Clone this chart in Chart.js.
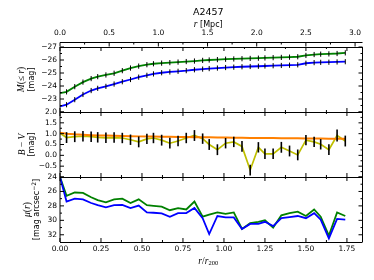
<!DOCTYPE html>
<html><head><meta charset="utf-8">
<script src="https://cdn.jsdelivr.net/npm/chart.js@4/dist/chart.umd.min.js"></script>
<style>html,body{margin:0;padding:0;background:#fff}#wrap{width:374px;height:280px}</style>
</head><body><div id="wrap"><canvas id="c" width="374" height="280"></canvas></div>
<script>
// r / r200 of each radial bin
const radius = [0, 0.04, 0.09, 0.14, 0.19, 0.23, 0.28, 0.33, 0.38, 0.43, 0.48, 0.53, 0.57, 0.62, 0.67, 0.72, 0.77, 0.82, 0.87, 0.91, 0.96, 1.01, 1.06, 1.11, 1.16, 1.21, 1.25, 1.30, 1.35, 1.40, 1.45, 1.50, 1.55, 1.59, 1.64, 1.69, 1.74];
// cumulative magnitude M(<= r)
const magGreen = [-23.45, -23.55, -23.95, -24.3, -24.57, -24.72, -24.85, -24.98, -25.18, -25.38, -25.53, -25.64, -25.71, -25.76, -25.8, -25.84, -25.88, -25.92, -25.97, -26.0, -26.03, -26.06, -26.08, -26.1, -26.12, -26.14, -26.16, -26.18, -26.2, -26.22, -26.25, -26.35, -26.42, -26.45, -26.47, -26.5, -26.55];
const magBlue = [-22.43, -22.56, -22.95, -23.35, -23.65, -23.82, -23.97, -24.15, -24.33, -24.5, -24.68, -24.82, -24.93, -25.02, -25.08, -25.13, -25.18, -25.25, -25.3, -25.34, -25.38, -25.42, -25.45, -25.48, -25.5, -25.52, -25.54, -25.56, -25.58, -25.6, -25.63, -25.75, -25.8, -25.82, -25.83, -25.85, -25.87];
// B - V colour profile, its error and the fitted trend
const bvColor = [1.02, 0.82, 0.86, 0.88, 0.86, 0.83, 0.81, 0.82, 0.80, 0.72, 0.62, 0.76, 0.80, 0.70, 0.56, 0.66, 0.80, 0.915, 0.77, 0.5, 0.26, 0.56, 0.62, 0.41, -0.68, 0.37, 0.07, 0.07, 0.37, 0.2, 0.02, 0.70, 0.62, 0.51, 0.26, 0.915, 0.66];
const bvErr = [null, 0.25, 0.25, 0.24, 0.24, 0.24, 0.24, 0.24, 0.24, 0.24, 0.25, 0.24, 0.24, 0.25, 0.25, 0.24, 0.24, 0.25, 0.24, 0.25, 0.25, 0.24, 0.24, 0.25, 0.25, 0.24, 0.24, 0.24, 0.25, 0.25, 0.25, 0.24, 0.24, 0.24, 0.25, 0.28, 0.25];
const bvFit = [1.04, 1.0, 0.97, 0.95, 0.93, 0.92, 0.91, 0.90, 0.89, 0.88, 0.875, 0.87, 0.865, 0.86, 0.855, 0.85, 0.845, 0.84, 0.835, 0.83, 0.825, 0.82, 0.815, 0.81, 0.805, 0.80, 0.80, 0.795, 0.79, 0.79, 0.785, 0.78, 0.78, 0.775, 0.77, 0.77, 0.765];
// surface brightness mu(r)
const muGreen = [24.0, 26.6, 26.15, 26.2, 26.8, 27.2, 27.5, 27.1, 27.0, 27.6, 27.1, 27.9, 28.0, 28.1, 28.6, 28.3, 28.5, 27.4, 29.5, 29.2, 28.9, 29.1, 28.9, 31.2, 30.4, 30.2, 30.0, 31.0, 29.3, 29.0, 28.8, 29.4, 28.5, 29.5, 32.1, 28.9, 29.4];
const muBlue = [24.0, 27.4, 27.0, 27.1, 27.6, 27.9, 28.2, 27.9, 27.85, 28.3, 27.95, 28.9, 28.95, 29.05, 29.5, 29.0, 29.0, 28.3, 29.7, 31.9, 29.4, 29.6, 29.6, 31.2, 30.5, 30.5, 30.2, 30.8, 29.7, 29.55, 29.4, 29.7, 29.0, 29.9, 32.5, 29.8, 29.9];
// tick labels
const xTicks = [0, 0.25, 0.5, 0.75, 1.0, 1.25, 1.5, 1.75];
const mpcTicks = [0, 0.5, 1.0, 1.5, 2.0, 2.5, 3.0];
const magTicks = [-27, -26, -25, -24, -23, -22];
const bvTicks = [2.0, 1.5, 1.0, 0.5, 0.0, -0.5, -1.0];
const muTicks = [24, 26, 28, 30, 32];
const R200_MPC = 1.667;
const X_MAX = 1.845;

const MINUS = '\u2212';
const fmt = (v, d) => (v < 0 ? MINUS : '') + Math.abs(v).toFixed(d);
const TICK_FONT = {family: 'DejaVu Sans', size: 7.5};
const SERIF_I = 'italic 9.5px "Liberation Serif"';
const SERIF = '9.5px "Liberation Serif"';
const SANS = '8px "DejaVu Sans"';

function pts(ys) { return radius.map((r, i) => ({x: r, y: ys[i]})); }
const markRadius = radius.map((r, i) => i === 0 ? 0 : 2.6);

function yScale(ticks, min, max, reverse, hide, digits) {
  return {
    type: 'linear', position: 'left', stack: 'panels', stackWeight: 1,
    min: min, max: max, reverse: reverse, offset: false,
    afterBuildTicks: s => { s.ticks = ticks.map(v => ({value: v})); },
    afterFit: s => { s.width = 60; },
    grid: {display: false, drawTicks: false}, border: {display: false},
    ticks: {font: TICK_FONT, color: '#000', padding: 3, autoSkip: false,
      callback: v => (v === hide ? '' : fmt(v, digits))}
  };
}

function midpoints(arr) {
  const s = arr.slice().sort((a, b) => a - b), out = [];
  for (let i = 0; i < s.length - 1; i++) out.push((s[i] + s[i + 1]) / 2);
  return out;
}

function drawRuns(ctx, runs, cx, cy) {
  let w = 0;
  runs.forEach(r => { ctx.font = r.f; r.w = ctx.measureText(r.t).width; w += r.w; });
  let x = cx - w / 2;
  runs.forEach(r => { ctx.font = r.f; ctx.fillText(r.t, x, cy + (r.dy || 0)); x += r.w; });
}

const decor = {
  id: 'decor',
  afterDatasetsDraw(chart) {
    const ctx = chart.ctx, sx = chart.scales.x, yb = chart.scales.yBV;
    ctx.save();
    ctx.strokeStyle = '#000'; ctx.lineWidth = 1.6;
    radius.forEach((r, i) => {
      if (bvErr[i] == null) return;
      const px = sx.getPixelForValue(r);
      ctx.beginPath();
      ctx.moveTo(px, yb.getPixelForValue(bvColor[i] - bvErr[i]));
      ctx.lineTo(px, yb.getPixelForValue(bvColor[i] + bvErr[i]));
      ctx.stroke();
    });
    ctx.restore();
  },
  afterDraw(chart) {
    const ctx = chart.ctx, ca = chart.chartArea, sx = chart.scales.x, sx2 = chart.scales.x2;
    ctx.save();
    ctx.strokeStyle = '#000'; ctx.lineWidth = 1;
    const panels = [['yM', magTicks], ['yBV', bvTicks], ['yMu', muTicks]];
    const xMinor = midpoints(xTicks);
    panels.forEach(([id, ticks]) => {
      const s = chart.scales[id];
      const top = s.top, bot = s.bottom;
      ctx.beginPath();
      ctx.moveTo(ca.left, Math.round(top) + 0.5); ctx.lineTo(ca.right, Math.round(top) + 0.5);
      ctx.moveTo(ca.left, Math.round(bot) + 0.5); ctx.lineTo(ca.right, Math.round(bot) + 0.5);
      ctx.moveTo(ca.left, top); ctx.lineTo(ca.left, bot);
      ctx.moveTo(ca.right, top); ctx.lineTo(ca.right, bot);
      const drawY = (v, len) => {
        const py = s.getPixelForValue(v);
        ctx.moveTo(ca.left, py); ctx.lineTo(ca.left + len, py);
        ctx.moveTo(ca.right, py); ctx.lineTo(ca.right - len, py);
      };
      ticks.forEach(v => drawY(v, 4));
      midpoints(ticks).forEach(v => drawY(v, 2));
      const drawX = (v, len) => {
        const px = sx.getPixelForValue(v);
        ctx.moveTo(px, top); ctx.lineTo(px, top + len);
        ctx.moveTo(px, bot); ctx.lineTo(px, bot - len);
      };
      xTicks.forEach(v => drawX(v, 4));
      xMinor.forEach(v => drawX(v, 2));
      ctx.stroke();
    });
    const y0 = ca.top - 4.5;
    ctx.beginPath();
    ctx.moveTo(ca.left, y0); ctx.lineTo(ca.right, y0);
    mpcTicks.forEach(v => { const px = sx2.getPixelForValue(v); ctx.moveTo(px, y0); ctx.lineTo(px, y0 + 4); });
    midpoints(mpcTicks).forEach(v => { const px = sx2.getPixelForValue(v); ctx.moveTo(px, y0); ctx.lineTo(px, y0 + 2); });
    ctx.stroke();

    ctx.fillStyle = '#000'; ctx.textBaseline = 'middle'; ctx.textAlign = 'left';
    const cx = (ca.left + ca.right) / 2 - 3;
    drawRuns(ctx, [{t: 'A2457', f: '9.5px "DejaVu Sans"'}], cx, 13);
    drawRuns(ctx, [{t: 'r', f: SERIF_I}, {t: ' [Mpc]', f: SANS}], cx, 24.5);
    drawRuns(ctx, [{t: 'r', f: SERIF_I}, {t: '/', f: SERIF}, {t: 'r', f: SERIF_I}, {t: '200', f: '6.5px "Liberation Serif"', dy: 2.5}], cx, 261);

    const ylab = (id, x1, runs1, x2, runs2) => {
      const s = chart.scales[id];
      const yc = (s.top + s.bottom) / 2;
      ctx.save(); ctx.translate(x1, yc); ctx.rotate(-Math.PI / 2); drawRuns(ctx, runs1, 0, 0); ctx.restore();
      ctx.save(); ctx.translate(x2, yc); ctx.rotate(-Math.PI / 2); drawRuns(ctx, runs2, 0, 0); ctx.restore();
    };
    ylab('yM', 21.5, [{t: 'M', f: SERIF_I}, {t: '(\u2264 ', f: SERIF}, {t: 'r', f: SERIF_I}, {t: ')', f: SERIF}],
         31.5, [{t: '[mag]', f: SANS}]);
    ylab('yBV', 22, [{t: 'B', f: SERIF_I}, {t: ' \u2212 ', f: SERIF}, {t: 'V', f: SERIF_I}],
         31.5, [{t: '[mag]', f: SANS}]);
    ylab('yMu', 27, [{t: '\u03bc', f: SERIF_I}, {t: '(', f: SERIF}, {t: 'r', f: SERIF_I}, {t: ')', f: SERIF}],
         37, [{t: '[mag arcsec', f: SANS}, {t: '\u22122', f: '6px "DejaVu Sans"', dy: -3}, {t: ']', f: SANS}]);
    ctx.restore();
  }
};

new Chart(document.getElementById('c'), {
  type: 'line',
  data: {
    datasets: [
      {data: pts(magBlue), xAxisID: 'x', yAxisID: 'yM', borderColor: '#0000ff', borderWidth: 1.8,
       pointStyle: 'line', rotation: 90, pointRadius: markRadius, pointBorderColor: '#000', pointBorderWidth: 1},
      {data: pts(magGreen), xAxisID: 'x', yAxisID: 'yM', borderColor: '#008000', borderWidth: 1.8,
       pointStyle: 'line', rotation: 90, pointRadius: markRadius, pointBorderColor: '#000', pointBorderWidth: 1},
      {data: pts(bvFit), xAxisID: 'x', yAxisID: 'yBV', borderColor: '#ff8000', borderWidth: 2, pointRadius: 0},
      {data: pts(bvColor), xAxisID: 'x', yAxisID: 'yBV', borderColor: '#bfbf00', borderWidth: 1.7, pointRadius: 0},
      {data: pts(muBlue), xAxisID: 'x', yAxisID: 'yMu', borderColor: '#0000ff', borderWidth: 1.8, pointRadius: 0},
      {data: pts(muGreen), xAxisID: 'x', yAxisID: 'yMu', borderColor: '#008000', borderWidth: 1.8, pointRadius: 0}
    ]
  },
  options: {
    responsive: false, animation: false, events: [], devicePixelRatio: 1,
    layout: {padding: {left: 0, right: 11.5, top: 0, bottom: 0}, autoPadding: false},
    plugins: {legend: {display: false}, tooltip: {enabled: false}, title: {display: false}},
    elements: {line: {tension: 0}},
    scales: {
      x: {type: 'linear', position: 'bottom', min: 0, max: X_MAX,
        afterBuildTicks: s => { s.ticks = xTicks.map(v => ({value: v})); },
        afterFit: s => { s.height = 38; },
        grid: {display: false, drawTicks: false}, border: {display: false},
        ticks: {font: TICK_FONT, color: '#000', padding: 3, maxRotation: 0, autoSkip: false, callback: v => fmt(v, 2)}},
      x2: {type: 'linear', position: 'top', min: 0, max: X_MAX * R200_MPC,
        afterBuildTicks: s => { s.ticks = mpcTicks.map(v => ({value: v})); },
        afterFit: s => { s.height = 47; },
        grid: {display: false, drawTicks: false}, border: {display: false},
        ticks: {font: TICK_FONT, color: '#000', padding: 9.5, maxRotation: 0, autoSkip: false, callback: v => fmt(v, 1)}},
      yMu: yScale(muTicks, 24, 33, true, 33, 0),
      yBV: yScale(bvTicks, -1, 2, false, -1, 1),
      yM: yScale(magTicks, -27, -22, true, -22, 0)
    }
  },
  plugins: [decor]
});
</script>
</body></html>
